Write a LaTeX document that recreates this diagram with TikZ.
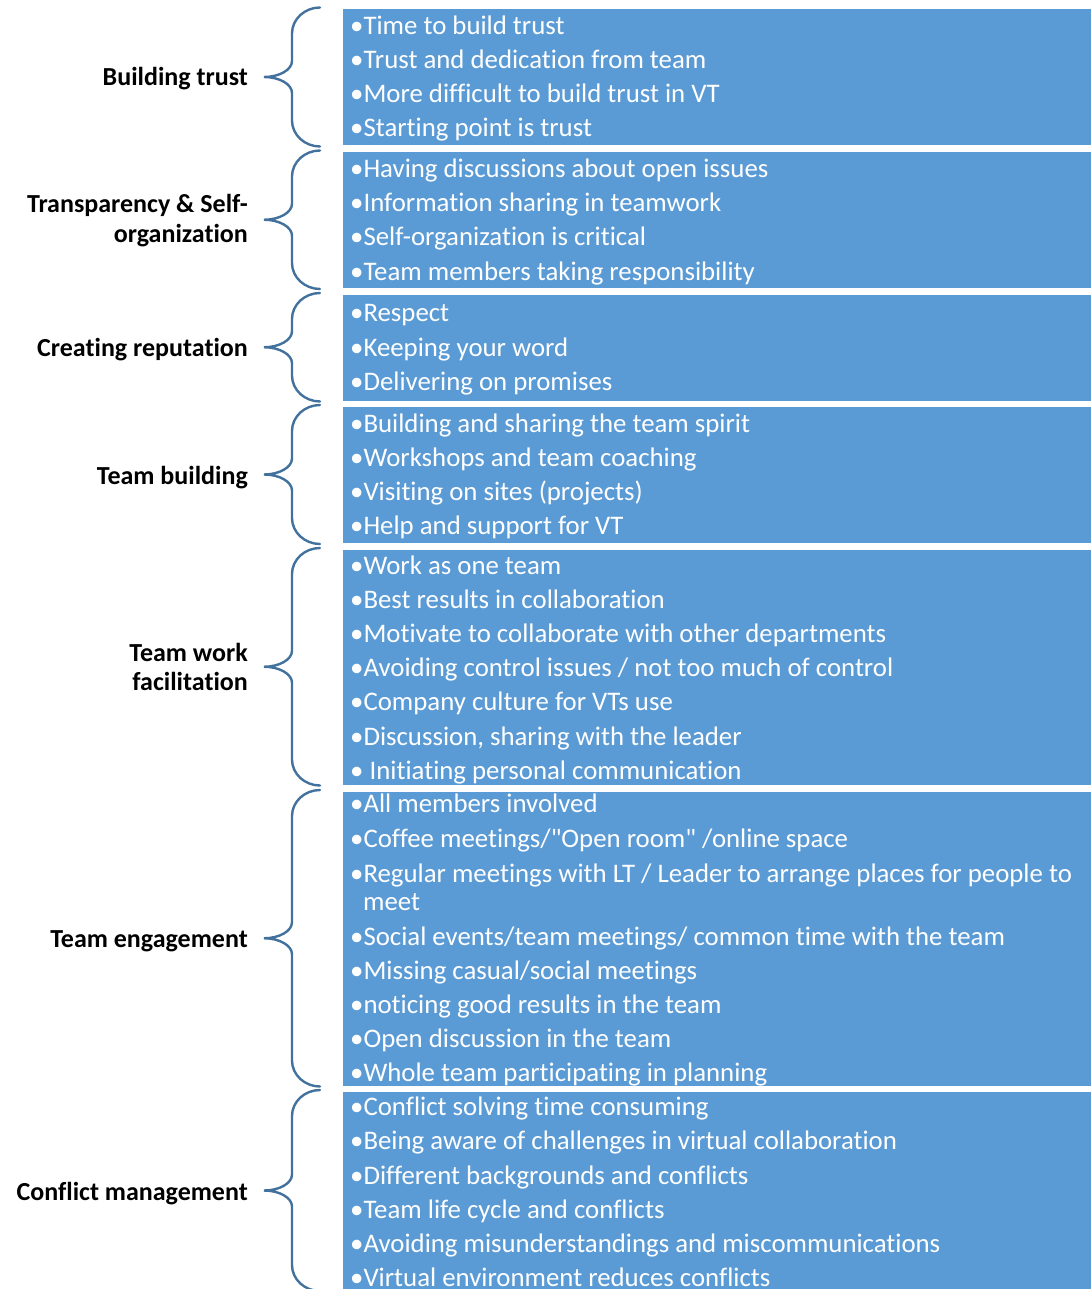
\documentclass[tikz,border=0pt]{standalone}
\usepackage{fontspec}
\setmainfont{Carlito}[Ligatures={TeXOff,CommonOff}]
\definecolor{panelblue}{HTML}{5B9BD5}
\definecolor{bracecol}{HTML}{41719C}

\begin{document}
\begin{tikzpicture}[x=1pt,y=-1pt,
  item/.style={anchor=base west, inner sep=0pt, text=white,
    font=\fontsize{26.8}{30}\selectfont},
  cat/.style={anchor=base east, inner sep=0pt,
    font=\fontsize{26}{30}\selectfont\bfseries},
  panel/.style={fill=panelblue, draw=none},
  curly/.style={draw=bracecol, line width=2.4pt, line cap=round}]

\useasboundingbox (0,0) rectangle (1091,1289);

% blue panels holding the bullet lists
\foreach \t/\b/\n in {9.5/145.5/1, 152.5/288/2, 295/400.5/3, 407/543/4,
                      550/784.5/5, 792/1085.5/6, 1092/1289/7}
  \path[panel] (343,\t) rectangle (1091,\b) coordinate (p\n);

% curly braces between category labels and panels
\foreach \t/\b/\n in {7.5/146.5/1, 150.5/289/2, 293/401.5/3, 405/544/4,
                      548/785.5/5, 790/1086.5/6, 1090/1291/7} {
  \pgfmathsetmacro\m{(\t+\b)/2}
  \coordinate (tip\n) at (264,\m);
  \draw[curly] (320,\t) .. controls (304.6,\t) and (292,\t+11.7) .. (292,\t+26)
    -- (292,\m-16) .. controls (292,\m-7.2) and (279.4,\m) .. (tip\n)
    .. controls (279.4,\m) and (292,\m+7.2) .. (292,\m+16)
    -- (292,\b-26) .. controls (292,\b-11.7) and (304.6,\b) .. (320,\b);
}

% category labels
\node[cat] (l1) at (248,86) {Building trust};
\node[cat] (l2a) at (248,213) {Transparency \& Self-};
\node[cat] (l2b) at (248,243) {organization};
\node[cat] (l3) at (248,356) {Creating reputation};
\node[cat] (l4) at (248,484) {Team building};
\node[cat] (l5a) at (248,661) {Team work};
\node[cat] (l5b) at (248,690) {facilitation};
\node[cat] (l6) at (248,947) {Team engagement};
\node[cat] (l7) at (248,1200) {Conflict management};

% bullet items
\foreach \y/\s [count=\k] in {
  35/{•Time to build trust},
  69/{•Trust and dedication from team},
  103/{•More difficult to build trust in VT},
  137/{•Starting point is trust},
  178/{•Having discussions about open issues},
  212/{•Information sharing in teamwork},
  246/{•Self-organization is critical},
  280/{•Team members taking responsibility},
  321/{•Respect},
  356/{•Keeping your word},
  390/{•Delivering on promises},
  432/{•Building and sharing the team spirit},
  466/{•Workshops and team coaching},
  500/{•Visiting on sites (projects)},
  534/{•Help and support for VT},
  574/{•Work as one team},
  608/{•Best results in collaboration},
  642/{•Motivate to collaborate with other departments},
  676/{•Avoiding control issues / not too much of control},
  710/{•Company culture for VTs use},
  745/{•Discussion, sharing with the leader},
  779/{• Initiating personal communication},
  812/{•All members involved},
  847/{•Coffee meetings/"Open room" /online space},
  882/{•Regular meetings with LT / Leader to arrange places for people to},
  945/{•Social events/team meetings/ common time with the team},
  979/{•Missing casual/social meetings},
  1013/{•noticing good results in the team},
  1047/{•Open discussion in the team},
  1081/{•Whole team participating in planning},
  1115/{•Conflict solving time consuming},
  1149/{•Being aware of challenges in virtual collaboration},
  1184/{•Different backgrounds and conflicts},
  1218/{•Team life cycle and conflicts},
  1252/{•Avoiding misunderstandings and miscommunications},
  1286/{•Virtual environment reduces conflicts}}
  \node[item] (it\k) at (350,\y) {\s};

% continuation of the wrapped item
\node[item] (it25b) at (363,910) {meet};

\end{tikzpicture}
\end{document}
